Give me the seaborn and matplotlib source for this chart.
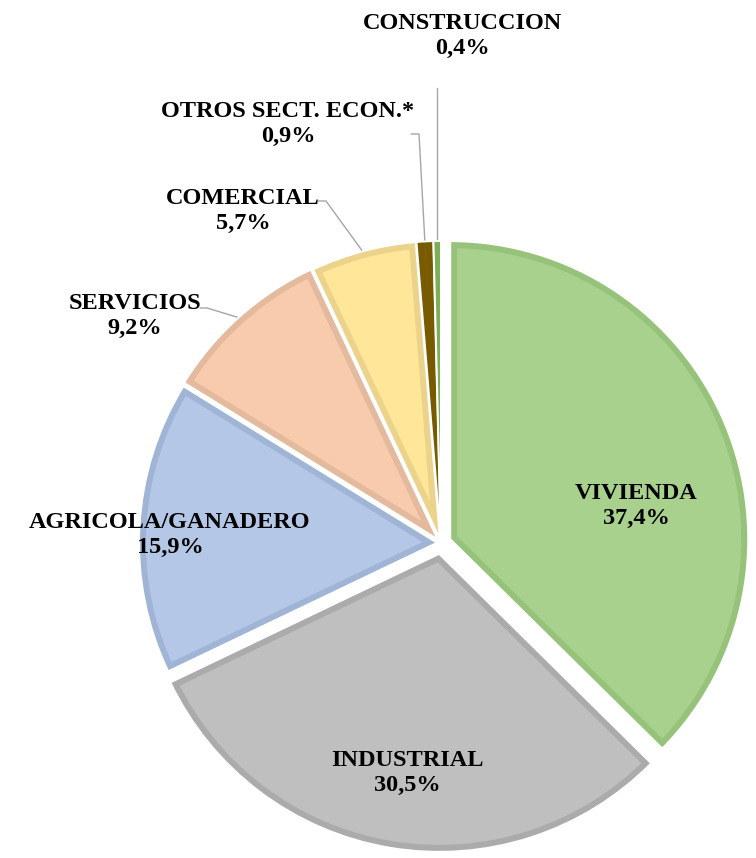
import numpy as np
import matplotlib
matplotlib.use("Agg")
import matplotlib.pyplot as plt
from matplotlib.patches import Wedge
import seaborn as sns

# datos del grafico
sectores = ["VIVIENDA", "INDUSTRIAL", "AGRICOLA/GANADERO", "SERVICIOS",
            "COMERCIAL", "OTROS SECT. ECON.*", "CONSTRUCCION"]
porcentajes = [37.4, 30.5, 15.9, 9.2, 5.7, 0.9, 0.4]
etiquetas_pct = ["37,4%", "30,5%", "15,9%", "9,2%", "5,7%", "0,9%", "0,4%"]

colores = ["#A9D18E", "#BFBFBF", "#B4C7E7", "#F8CBAD", "#FFE699", "#7F6000", "#84B75E"]
bordes = ["#96C27A", "#ABABAB", "#A0B4D6", "#E3BA9E", "#EBD38B", "#785A00", "#7AAF55"]
# separacion de cada sector, en pixeles
separacion = [10, 11, 4, 5, 4, 4, 4]

# posiciones de las etiquetas (pixeles de la imagen, y hacia abajo)
pos_texto = [(636, 506), (407, 773), (170, 535), (135, 316),
             (243, 211), (288, 124), (462, 36)]
# codo de la linea guia (None = etiqueta dentro del sector)
codo = [None, None, None, (200, 308, 207), (318, 201, 326),
        (411, 134, 419), None]

W, H = 756, 858
centro = (441, H - 543)
radio = 298

sns.set_theme(style="white")
plt.rcParams["font.family"] = ["Liberation Serif", "DejaVu Serif"]

fig = plt.figure(figsize=(W / 100, H / 100), dpi=100)
ax = fig.add_axes([0, 0, 1, 1])

wedges, _ = ax.pie(porcentajes, colors=colores, explode=separacion,
                   startangle=90, counterclock=False, radius=radio,
                   center=centro, wedgeprops=dict(linewidth=0))
for w, b in zip(wedges, bordes):
    # borde grueso, recortado al interior del sector
    borde = Wedge(w.center, w.r, w.theta1, w.theta2, facecolor="none",
                  edgecolor=b, lw=10, joinstyle="miter")
    ax.add_patch(borde)
    borde.set_clip_path(w)
    # fino contorno blanco entre sectores
    ax.add_patch(Wedge(w.center, w.r, w.theta1, w.theta2, fill=False,
                       edgecolor="white", lw=1.4, joinstyle="round"))

ax.set_xlim(0, W)
ax.set_ylim(0, H)
ax.axis("off")

for i, (nombre, pct) in enumerate(zip(sectores, etiquetas_pct)):
    x, y = pos_texto[i]
    ax.text(x, H - y, f"{nombre}\n{pct}", ha="center", va="center",
            multialignment="center", fontsize=17.5, fontweight="bold",
            color="black", linespacing=1.25)

    w = wedges[i]
    ang = np.deg2rad((w.theta1 + w.theta2) / 2)
    cx, cy = w.center
    fin = (cx + w.r * 0.995 * np.cos(ang), cy + w.r * 0.995 * np.sin(ang))
    if codo[i] is not None:
        x0, yc, x1 = codo[i]
        ax.plot([x0, x1, fin[0]], [H - yc, H - yc, fin[1]],
                color="#A6A6A6", lw=1.0, zorder=0.5)
    elif nombre == "CONSTRUCCION":
        ax.plot([fin[0], fin[0]], [H - 88, fin[1]],
                color="#A6A6A6", lw=1.0, zorder=0.5)

fig.savefig("out.png", dpi=100)
